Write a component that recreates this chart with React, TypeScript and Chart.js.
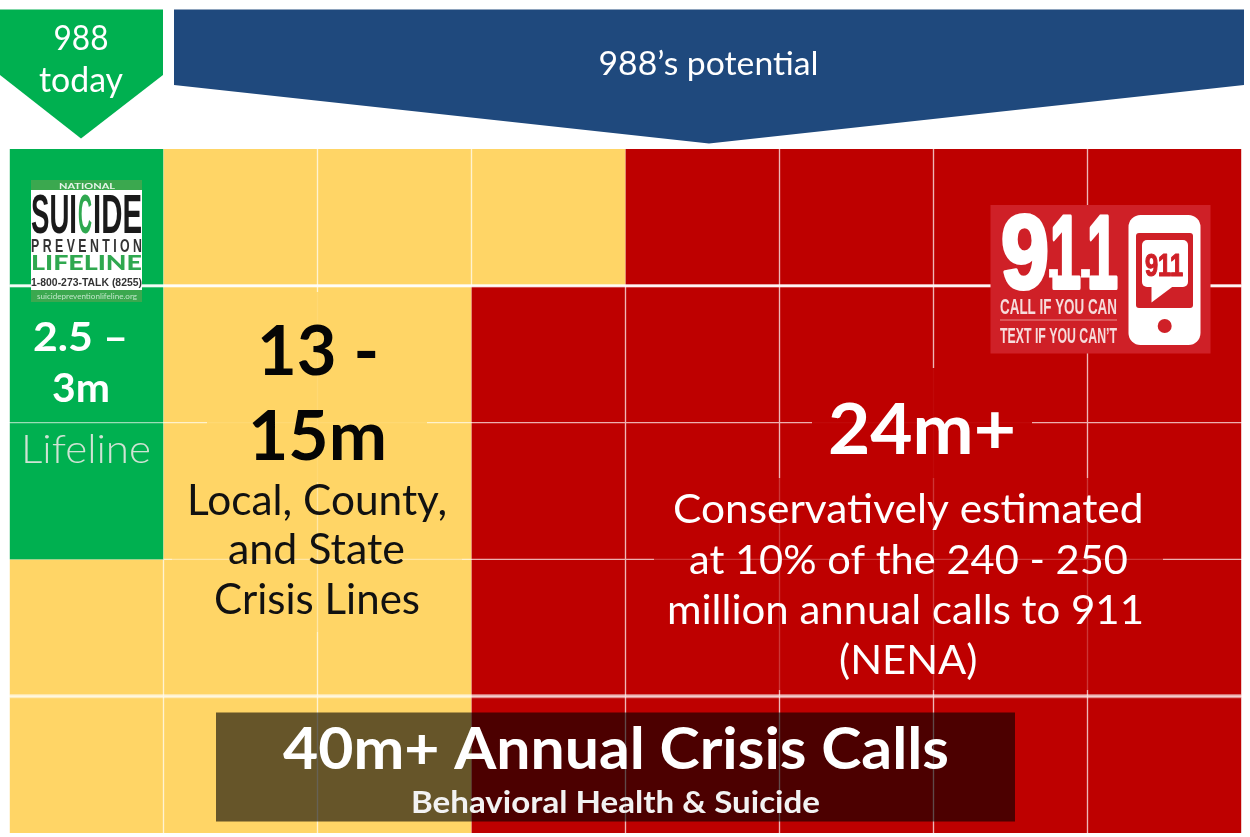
import React, { useEffect, useRef } from "react";
import { Chart, registerables } from "chart.js";

Chart.register(...registerables);

// One tile stands for one million annual calls; tiles fill column by column, top to bottom.
const columnLabels = ["c1", "c2", "c3", "c4", "c5", "c6", "c7", "c8"];
const rowLabels = ["r1", "r2", "r3", "r4", "r5"];
const tileValues = [1, 1, 1, 1, 1, 1, 1, 1];
const segmentNames = ["Lifeline", "Crisis lines", "911"];
const segmentTiles = [3, 13, 24];
const segmentFill = ["#00B050", "#FFD566", "#BE0000"];
const segmentEdge = ["#9ADDB6", "#FFF2CC", "#EDAFAF"];

const todayLines = ["988", "today"];
const potentialLine = "988\u2019s potential";
const lifelineLines = ["2.5 \u2013", "3m"];
const lifelineName = "Lifeline";
const localLines = ["13 -", "15m"];
const localText = ["Local, County,", "and State", "Crisis Lines"];
const nationalHead = "24m+";
const nationalText = [
  "Conservatively estimated",
  "at 10% of the 240 - 250",
  "million annual calls to 911",
  "(NENA)",
];
const totalHead = "40m+ Annual Crisis Calls";
const totalSub = "Behavioral Health & Suicide";

const BODY = "Lato, sans-serif";
const NARROW = '"Liberation Sans Narrow", "Liberation Sans", sans-serif';
const HEAVY = '"Liberation Sans", sans-serif';

function tileSegment(col: number, row: number): number {
  const order = col * rowLabels.length + row;
  let upto = 0;
  for (let s = 0; s < segmentTiles.length; s++) {
    upto += segmentTiles[s];
    if (order < upto) return s;
  }
  return segmentTiles.length - 1;
}

// Text squeezed or stretched to an exact span, optionally thickened with an outline.
function fitText(
  ctx: CanvasRenderingContext2D,
  text: string,
  left: number,
  right: number,
  baseline: number,
  size: number,
  color: string,
  weight = "400",
  family = BODY,
  outline = 0
) {
  ctx.save();
  ctx.font = `${weight} ${size}px ${family}`;
  ctx.fillStyle = color;
  ctx.textAlign = "left";
  ctx.textBaseline = "alphabetic";
  const natural = ctx.measureText(text).width;
  ctx.translate(left, baseline);
  ctx.scale((right - left) / natural, 1);
  ctx.fillText(text, 0, 0);
  if (outline > 0) {
    ctx.strokeStyle = color;
    ctx.lineWidth = outline;
    ctx.lineJoin = "round";
    ctx.strokeText(text, 0, 0);
  }
  ctx.restore();
}

function polygon(ctx: CanvasRenderingContext2D, pts: number[][], color: string) {
  ctx.beginPath();
  pts.forEach(([x, y], i) => (i ? ctx.lineTo(x, y) : ctx.moveTo(x, y)));
  ctx.closePath();
  ctx.fillStyle = color;
  ctx.fill();
}

function roundBox(
  ctx: CanvasRenderingContext2D,
  x0: number,
  y0: number,
  x1: number,
  y1: number,
  r: number,
  color: string
) {
  ctx.beginPath();
  ctx.roundRect(x0, y0, x1 - x0, y1 - y0, r);
  ctx.fillStyle = color;
  ctx.fill();
}

function drawLifelineLogo(ctx: CanvasRenderingContext2D) {
  ctx.fillStyle = "#3BA84F";
  ctx.fillRect(31, 180, 111, 122);
  ctx.fillStyle = "#FFFFFF";
  ctx.fillRect(31, 190, 111, 100);
  fitText(ctx, "NATIONAL", 59, 115, 188.5, 8, "#E8F5E9", "700");
  fitText(ctx, "SUI", 31, 77, 233, 55, "#1A1A1A", "700", NARROW);
  fitText(ctx, "C", 78, 92, 233, 55, "#2FA84F", "700", NARROW);
  fitText(ctx, "IDE", 93, 142, 233, 55, "#1A1A1A", "700", NARROW);
  fitText(ctx, "P R E V E N T I O N", 31, 142, 252, 19, "#333333", "700", NARROW);
  fitText(ctx, "LIFELINE", 31, 142, 270, 21, "#2FA84F", "900");
  fitText(ctx, "1-800-273-TALK (8255)", 31, 142, 286, 10, "#333333", "700", NARROW);
  fitText(ctx, "suicidepreventionlifeline.org", 37, 137, 299, 7.5, "#BFE6C8", "400");
}

function drawNineOneOneLogo(ctx: CanvasRenderingContext2D) {
  const brand = "#CF2027";
  ctx.fillStyle = brand;
  ctx.fillRect(990.5, 205, 220, 148.5);
  // The big numerals sit tight together, so each glyph gets its own span.
  fitText(ctx, "9", 1001, 1049, 287.5, 103, "#FFFFFF", "700", HEAVY, 4);
  fitText(ctx, "1", 1050, 1081, 287.5, 103, "#FFFFFF", "700", HEAVY, 4);
  fitText(ctx, "1", 1087, 1118, 287.5, 103, "#FFFFFF", "700", HEAVY, 4);
  fitText(ctx, "-", 1048, 1059, 289, 62, "#FFFFFF", "700", HEAVY, 1);
  fitText(ctx, "-", 1080, 1091, 289, 62, "#FFFFFF", "700", HEAVY, 1);
  fitText(ctx, "CALL IF YOU CAN", 1000, 1117, 314, 22, "#F6DCDC", "700", NARROW);
  ctx.fillStyle = "#E98A8A";
  ctx.fillRect(1000, 319.5, 117, 1);
  fitText(ctx, "TEXT IF YOU CAN\u2019T", 1000, 1117, 343, 22, "#F6DCDC", "700", NARROW);
  roundBox(ctx, 1128.5, 215, 1200.5, 345, 12, "#FFFFFF");
  roundBox(ctx, 1136, 233, 1193, 308, 3, brand);
  roundBox(ctx, 1142, 240, 1188, 287, 5, "#FFFFFF");
  polygon(ctx, [[1151.5, 286], [1151.5, 302.5], [1173.5, 286]], "#FFFFFF");
  fitText(ctx, "911", 1145, 1183, 276, 31, brand, "700", HEAVY, 1.2);
  ctx.beginPath();
  ctx.arc(1164.7, 326, 7, 0, Math.PI * 2);
  ctx.fillStyle = brand;
  ctx.fill();
}

// Banners, soft text backings, logos and labels painted over the tiles.
const overlayPlugin = {
  id: "waffleOverlay",
  afterDatasetsDraw(chart: Chart) {
    const ctx = chart.ctx;
    const y = chart.scales.y;
    const { left, right } = chart.chartArea;
    ctx.save();

    polygon(ctx, [[0, 9.5], [163, 9.5], [163, 75], [81, 138.5], [0, 75]], segmentFill[0]);
    polygon(
      ctx,
      [[174, 9.5], [1244, 9.5], [1244, 85], [709, 143.5], [174, 85]],
      "#1F497D"
    );
    fitText(ctx, todayLines[0], 53.5, 108.5, 50, 35, "#FFFFFF");
    fitText(ctx, todayLines[1], 39, 123, 92, 35, "#FFFFFF");
    fitText(ctx, potentialLine, 598.5, 818.5, 75, 32, "#FFFFFF");

    // Heavier rules between the first two rows and above the last one.
    ctx.fillStyle = "rgba(255,255,255,0.92)";
    ctx.fillRect(left, y.getPixelForValue(1) - 1.5, right - left, 3);
    ctx.fillStyle = "rgba(255,255,255,0.55)";
    ctx.fillRect(left, y.getPixelForValue(4) - 2, right - left, 4);

    // Backings that fade the grid behind the larger copy.
    ctx.fillStyle = "rgba(255,213,102,0.88)";
    ctx.fillRect(207, 292, 220, 190);
    ctx.fillStyle = "rgba(255,213,102,0.4)";
    ctx.fillRect(172, 482, 290, 150);
    ctx.fillStyle = "rgba(190,0,0,0.95)";
    ctx.fillRect(812, 368, 220, 110);
    ctx.fillStyle = "rgba(190,0,0,0.7)";
    ctx.fillRect(654, 478, 509, 212);

    drawLifelineLogo(ctx);
    drawNineOneOneLogo(ctx);

    fitText(ctx, lifelineLines[0], 33, 128, 351, 40, "#FFFFFF", "700");
    fitText(ctx, lifelineLines[1], 52, 110, 401.5, 40, "#FFFFFF", "700");
    fitText(ctx, lifelineName, 21, 151, 463, 39, "#CFE3D4", "300");

    fitText(ctx, localLines[0], 257, 379, 375, 69, "#050505", "700");
    fitText(ctx, localLines[1], 248, 387, 460, 69, "#050505", "700");
    fitText(ctx, localText[0], 187, 447, 515, 42, "#111111");
    fitText(ctx, localText[1], 228, 405, 564, 42, "#111111");
    fitText(ctx, localText[2], 214, 420, 614, 42, "#111111");

    fitText(ctx, nationalHead, 828, 1016, 454, 70, "#FFFFFF", "700");
    fitText(ctx, nationalText[0], 673, 1143.5, 522.5, 41, "#FFFFFF");
    fitText(ctx, nationalText[1], 689, 1128, 574, 41, "#FFFFFF");
    fitText(ctx, nationalText[2], 667, 1144, 624, 41, "#FFFFFF");
    fitText(ctx, nationalText[3], 839, 977.5, 674, 41, "#FFFFFF");

    ctx.fillStyle = "rgba(0,0,0,0.6)";
    ctx.fillRect(216, 712.5, 799, 109);
    fitText(ctx, totalHead, 283, 949, 769, 58, "#FFFFFF", "700");
    fitText(ctx, totalSub, 411, 820, 813, 31, "#F2F2F2", "700");

    ctx.restore();
  },
};

export default function App() {
  const canvasRef = useRef<HTMLCanvasElement | null>(null);

  useEffect(() => {
    if (!canvasRef.current) return;
    const datasets = rowLabels.map((rowName, row) => ({
      label: rowName,
      data: tileValues,
      backgroundColor: columnLabels.map((_, col) => segmentFill[tileSegment(col, row)]),
      borderColor: columnLabels.map((_, col) => segmentEdge[tileSegment(col, row)]),
      // Only tiles of one segment get a seam between them.
      borderWidth: (c: any) => {
        const col = c.dataIndex;
        if (col === undefined) return 0;
        const own = tileSegment(col, row);
        const same = (cc: number, rr: number) =>
          cc >= 0 && cc < columnLabels.length && rr >= 0 && rr < rowLabels.length &&
          tileSegment(cc, rr) === own;
        return {
          top: same(col, row - 1) ? 1 : 0,
          bottom: same(col, row + 1) ? 1 : 0,
          left: same(col - 1, row) ? 1 : 0,
          right: same(col + 1, row) ? 1 : 0,
        };
      },
      borderSkipped: false,
      barPercentage: 1,
      categoryPercentage: 1,
    }));

    const chart = new Chart(canvasRef.current, {
      type: "bar",
      data: { labels: columnLabels, datasets },
      plugins: [overlayPlugin],
      options: {
        animation: false,
        responsive: false,
        layout: { padding: { left: 9.5, right: 8.5, top: 149, bottom: 4 } },
        plugins: {
          legend: { display: false },
          tooltip: { enabled: false },
          title: { display: false },
        },
        scales: {
          x: { stacked: true, display: false },
          y: { stacked: true, display: false, reverse: true, min: 0, max: rowLabels.length },
        },
      },
    } as any);
    return () => chart.destroy();
  }, []);

  return (
    <canvas
      ref={canvasRef}
      width={1250}
      height={837}
      aria-label={segmentNames.join(", ")}
      style={{ position: "fixed", left: 0, top: 0, width: 1250, height: 837, display: "block" }}
    />
  );
}
